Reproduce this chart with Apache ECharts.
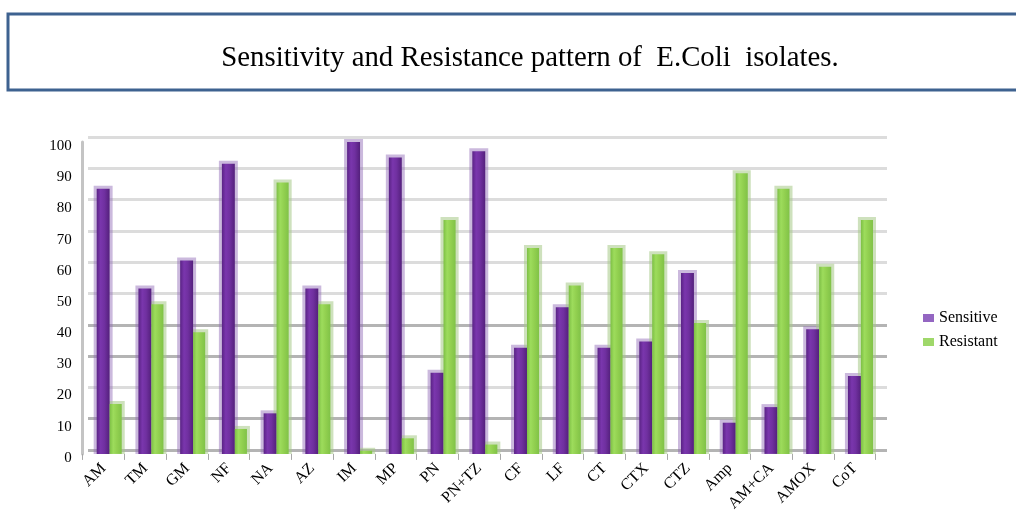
<!DOCTYPE html>
<html>
<head>
<meta charset="utf-8">
<script src="https://cdn.jsdelivr.net/npm/echarts@6/dist/echarts.min.js"></script>
<style>
  html, body { margin: 0; padding: 0; background: #ffffff; }
  #chart { width: 1016px; height: 514px; }
</style>
</head>
<body>
<div id="chart"></div>
<script>
// Antibiotics tested against E.Coli isolates (percent of isolates)
const categories = ['AM', 'TM', 'GM', 'NF', 'NA', 'AZ', 'IM', 'MP', 'PN', 'PN+TZ',
  'CF', 'LF', 'CT', 'CTX', 'CTZ', 'Amp', 'AM+CA', 'AMOX', 'CoT'];
const sensitive = [85, 53, 62, 93, 13, 53, 100, 95, 26, 97, 34, 47, 34, 36, 58, 10, 15, 40, 25];
const resistant = [16, 48, 39, 8, 87, 48, 1, 5, 75, 3, 66, 54, 66, 64, 42, 90, 85, 60, 75];
const seriesNames = ['Sensitive', 'Resistant'];
const yMin = 0, yMax = 100, yStep = 10;
const titleText = 'Sensitivity and Resistance pattern of  E.Coli  isolates.';

const serif = '"Liberation Serif", "Times New Roman", serif';

// back-wall grid line shades, one per tick from 0 up to 100
const wallLineColors = ['#b4b4b4', '#b4b4b4', '#dcdcdc', '#b4b4b4', '#b4b4b4',
  '#dcdcdc', '#dcdcdc', '#dcdcdc', '#dcdcdc', '#dcdcdc', '#dcdcdc'];

const faces = {
  Sensitive: {
    start: 0.335, width: 0.31,
    front: ['#5a2385', '#7a36ad', '#7030a0', '#54207c'],
    back: 'rgba(140, 100, 180, 0.45)'
  },
  Resistant: {
    start: 0.645, width: 0.29,
    front: ['#7dbf45', '#9ddc5c', '#92d050', '#80c247'],
    back: 'rgba(165, 200, 135, 0.55)'
  }
};

// column geometry from the category axis scale
function columnRect(api, face) {
  const cat = api.value(0);
  const val = api.value(1);
  const top = api.coord([cat, val]);
  const base = api.coord([cat, 0]);
  const band = api.size([1, 0])[0];
  const x = top[0] - band / 2 + band * face.start;
  const w = band * face.width;
  return { x: x, y: top[1], width: w, height: base[1] - top[1] };
}

function backFace(name) {
  const face = faces[name];
  return function (params, api) {
    const r = columnRect(api, face);
    return {
      type: 'rect',
      shape: { x: r.x - 3, y: r.y - 3, width: r.width + 6, height: r.height + 3 },
      style: { fill: face.back }
    };
  };
}

function frontFace(name) {
  const face = faces[name];
  return function (params, api) {
    const r = columnRect(api, face);
    const c = face.front;
    return {
      type: 'rect',
      shape: r,
      style: {
        fill: new echarts.graphic.LinearGradient(0, 0, 1, 0, [
          { offset: 0, color: c[0] },
          { offset: 0.3, color: c[1] },
          { offset: 0.6, color: c[2] },
          { offset: 1, color: c[3] }
        ])
      }
    };
  };
}

function pairs(values) {
  return values.map((v, i) => [i, v]);
}

const chart = echarts.init(document.getElementById('chart'), null, { renderer: 'canvas' });

chart.setOption({
  animation: false,
  backgroundColor: '#ffffff',
  graphic: [
    {
      type: 'rect',
      z: 0,
      shape: { x: 8, y: 14, width: 1030, height: 76 },
      style: { fill: '#ffffff', stroke: '#3e6290', lineWidth: 3 }
    },
    {
      type: 'text',
      z: 1,
      x: 530,
      y: 58,
      scaleX: 0.96,
      style: {
        text: titleText,
        font: '30px ' + serif,
        fill: '#000000',
        textAlign: 'center',
        textVerticalAlign: 'middle'
      }
    }
  ],
  legend: {
    data: seriesNames,
    orient: 'vertical',
    left: 918,
    top: 305,
    itemWidth: 11,
    itemHeight: 8,
    itemGap: 8,
    icon: 'rect',
    textStyle: { fontFamily: serif, fontSize: 16, color: '#000000' }
  },
  grid: [
    { left: 82.7, right: 140.3, top: 142, bottom: 59 },
    { left: 88, right: 129, top: 137, bottom: 64 }
  ],
  xAxis: [
    {
      type: 'category',
      gridIndex: 0,
      data: categories,
      axisLine: { show: false },
      axisTick: { show: true, length: 6, lineStyle: { color: '#a8a8a8', width: 1 } },
      axisLabel: {
        rotate: 45,
        margin: 12,
        fontFamily: serif,
        fontSize: 16,
        color: '#000000'
      },
      splitLine: { show: false }
    },
    {
      type: 'category',
      gridIndex: 1,
      data: categories,
      show: false
    }
  ],
  yAxis: [
    {
      type: 'value',
      gridIndex: 0,
      min: yMin,
      max: yMax,
      interval: yStep,
      axisLine: { show: true, lineStyle: { color: '#c4c4c4', width: 3 } },
      axisTick: { show: false },
      splitLine: { show: false },
      axisLabel: {
        margin: 11,
        verticalAlign: 'top',
        lineHeight: 8,
        fontFamily: serif,
        fontSize: 15,
        color: '#000000'
      }
    },
    {
      type: 'value',
      gridIndex: 1,
      min: yMin,
      max: yMax,
      interval: yStep,
      axisLine: { show: false },
      axisTick: { show: false },
      axisLabel: { show: false },
      splitLine: { show: true, lineStyle: { color: wallLineColors, width: 3 } }
    }
  ],
  series: [
    {
      name: 'SensitiveBack', type: 'custom', xAxisIndex: 0, yAxisIndex: 0, z: 2,
      renderItem: backFace('Sensitive'), data: pairs(sensitive), silent: true
    },
    {
      name: 'ResistantBack', type: 'custom', xAxisIndex: 0, yAxisIndex: 0, z: 2,
      renderItem: backFace('Resistant'), data: pairs(resistant), silent: true
    },
    {
      name: 'Sensitive', type: 'custom', xAxisIndex: 0, yAxisIndex: 0, z: 3,
      itemStyle: { color: '#9466c2' },
      renderItem: frontFace('Sensitive'), data: pairs(sensitive)
    },
    {
      name: 'Resistant', type: 'custom', xAxisIndex: 0, yAxisIndex: 0, z: 3,
      itemStyle: { color: '#9fd86a' },
      renderItem: frontFace('Resistant'), data: pairs(resistant)
    }
  ]
});
</script>
</body>
</html>
